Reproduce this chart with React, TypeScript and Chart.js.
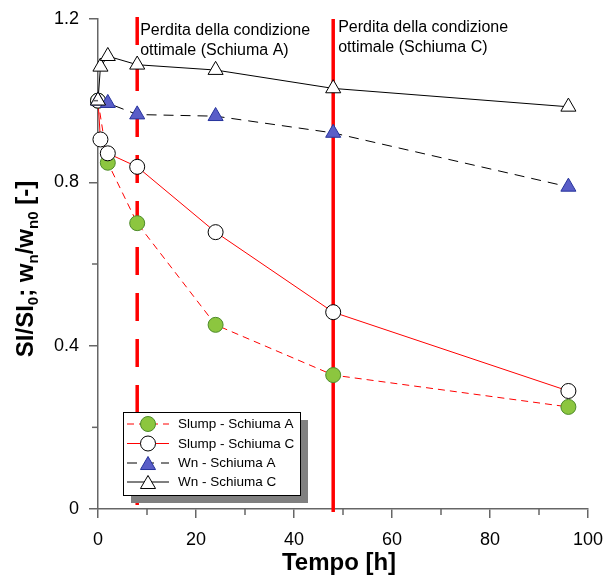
import React, { useEffect, useRef } from 'react';
import { Chart, registerables } from 'chart.js';

Chart.register(...registerables);

// ---- data ----
const slumpAX = [0, 2, 8, 24, 48, 96];
const slumpAY = [1.0, 0.848, 0.7, 0.451, 0.328, 0.25];
const slumpCX = [0, 0.5, 2, 8, 24, 48, 96];
const slumpCY = [1.0, 0.905, 0.871, 0.838, 0.678, 0.482, 0.289];
const wnAX = [0, 2, 8, 24, 48, 96];
const wnAY = [1.0, 0.994, 0.966, 0.962, 0.921, 0.789];
const wnCX = [0, 0.5, 2, 8, 24, 48, 96];
const wnCY = [1.0, 1.083, 1.109, 1.088, 1.075, 1.03, 0.985];

const seriesLabels = ['Slump - Schiuma A', 'Slump - Schiuma C', 'Wn - Schiuma A', 'Wn - Schiuma C'];
const markerLineX = [8, 48];
const annotationLines = [
  ['Perdita della condizione', 'ottimale (Schiuma A)'],
  ['Perdita della condizione', 'ottimale (Schiuma C)'],
];
const xTitle = 'Tempo [h]';
const xMinorTicks = [10, 30, 50, 70, 90];
const yMinorTicks = [0.2, 0.6, 1.0];

const FONT = '"Liberation Sans", Arial, sans-serif';

const toPts = (xs: number[], ys: number[]) => xs.map((x, i) => ({ x, y: ys[i] }));

const styles = [
  { line: '#ff0000', dash: [7, 5], fill: '#8cc63f', stroke: '#4d8a2a', shape: 'circle', r: 7.5 },
  { line: '#ff0000', dash: [], fill: '#ffffff', stroke: '#000000', shape: 'circle', r: 7.5 },
  { line: '#000000', dash: [10, 7], fill: '#5a5ec8', stroke: '#26339c', shape: 'triangle', r: 8.7 },
  { line: '#000000', dash: [], fill: '#ffffff', stroke: '#000000', shape: 'triangle', r: 8.7 },
];

function drawMarker(ctx: CanvasRenderingContext2D, shape: string, x: number, y: number, r: number, fill: string, stroke: string) {
  ctx.save();
  ctx.setLineDash([]);
  ctx.beginPath();
  if (shape === 'circle') {
    ctx.arc(x, y, r, 0, Math.PI * 2);
  } else {
    const h = 1.5 * r;
    const w = Math.sqrt(3) * r;
    ctx.moveTo(x, y - h / 2);
    ctx.lineTo(x + w / 2, y + h / 2);
    ctx.lineTo(x - w / 2, y + h / 2);
    ctx.closePath();
  }
  ctx.fillStyle = fill;
  ctx.fill();
  ctx.lineWidth = 1;
  ctx.strokeStyle = stroke;
  ctx.stroke();
  ctx.restore();
}

const overlay = {
  id: 'overlay',
  beforeDatasetsDraw(chart: any) {
    const { ctx, scales } = chart;
    const x = scales.x;
    const y = scales.y;
    ctx.save();
    ctx.strokeStyle = '#ff0000';
    ctx.lineWidth = 3.5;
    const px1 = x.getPixelForValue(markerLineX[0]);
    ctx.setLineDash([28, 18]);
    ctx.beginPath();
    ctx.moveTo(px1, y.getPixelForValue(1.2) - 2);
    ctx.lineTo(px1, y.getPixelForValue(0) + 3);
    ctx.stroke();
    const px2 = x.getPixelForValue(markerLineX[1]);
    ctx.setLineDash([]);
    ctx.beginPath();
    ctx.moveTo(px2, y.getPixelForValue(1.2));
    ctx.lineTo(px2, y.getPixelForValue(0) + 3);
    ctx.stroke();
    ctx.restore();
  },
  afterDraw(chart: any) {
    const { ctx, scales } = chart;
    const x = scales.x;
    const y = scales.y;
    ctx.save();
    ctx.strokeStyle = '#666666';
    ctx.lineWidth = 1.5;
    const y0 = y.getPixelForValue(0);
    const x0 = x.getPixelForValue(0);
    xMinorTicks.forEach((v) => {
      const p = x.getPixelForValue(v);
      ctx.beginPath();
      ctx.moveTo(p, y0);
      ctx.lineTo(p, y0 + 6);
      ctx.stroke();
    });
    yMinorTicks.forEach((v) => {
      const p = y.getPixelForValue(v);
      ctx.beginPath();
      ctx.moveTo(x0, p);
      ctx.lineTo(x0 - 6, p);
      ctx.stroke();
    });

    ctx.fillStyle = '#000';
    ctx.font = `16px ${FONT}`;
    ctx.textAlign = 'left';
    ctx.textBaseline = 'alphabetic';
    const annX = [x.getPixelForValue(markerLineX[0]) + 3, x.getPixelForValue(markerLineX[1]) + 5];
    const annY = [35, 32];
    annotationLines.forEach((lines, i) => {
      lines.forEach((t, j) => ctx.fillText(t, annX[i], annY[i] + j * 19.5));
    });

    ctx.font = `bold 24px ${FONT}`;
    ctx.textAlign = 'center';
    ctx.fillText(xTitle, 339, 570);

    const segs: [string, boolean][] = [
      ['SI/SI', false], ['0', true], ['; w', false], ['n', true], ['/w', false], ['n0', true], [' [-]', false],
    ];
    const mainF = `bold 24px ${FONT}`;
    const subF = `bold 15px ${FONT}`;
    let total = 0;
    segs.forEach(([t, s]) => {
      ctx.font = s ? subF : mainF;
      total += ctx.measureText(t).width;
    });
    ctx.translate(33, 269);
    ctx.rotate(-Math.PI / 2);
    ctx.textAlign = 'left';
    let cx = -total / 2;
    segs.forEach(([t, s]) => {
      ctx.font = s ? subF : mainF;
      ctx.fillText(t, cx, s ? 5 : 0);
      cx += ctx.measureText(t).width;
    });
    ctx.setTransform(1, 0, 0, 1, 0, 0);
    ctx.restore();

    ctx.save();
    const dpr = chart.currentDevicePixelRatio || 1;
    ctx.setTransform(dpr, 0, 0, dpr, 0, 0);
    const bx = 123, by = 412, bw = 177, bh = 83;
    ctx.fillStyle = '#808080';
    ctx.fillRect(bx + 8, by + 8, bw, bh);
    ctx.fillStyle = '#ffffff';
    ctx.fillRect(bx, by, bw, bh);
    ctx.strokeStyle = '#000';
    ctx.lineWidth = 1;
    ctx.strokeRect(bx + 0.5, by + 0.5, bw, bh);
    const rows = [424, 443.5, 463, 482];
    seriesLabels.forEach((lab, i) => {
      const st = styles[i];
      const ry = rows[i];
      ctx.strokeStyle = st.line;
      ctx.lineWidth = 1;
      ctx.setLineDash(st.dash);
      ctx.beginPath();
      ctx.moveTo(127, ry);
      ctx.lineTo(169, ry);
      ctx.stroke();
      ctx.setLineDash([]);
      drawMarker(ctx, st.shape, 148, ry, st.r, st.fill, st.stroke);
      ctx.fillStyle = '#000';
      ctx.font = `13.5px ${FONT}`;
      ctx.textAlign = 'left';
      ctx.textBaseline = 'middle';
      ctx.fillText(lab, 178, ry + 0.5);
    });
    ctx.restore();
  },
};

export default function App() {
  const ref = useRef<HTMLCanvasElement | null>(null);
  useEffect(() => {
    if (!ref.current) return;
    const datasets = [
      toPts(slumpAX, slumpAY),
      toPts(slumpCX, slumpCY),
      toPts(wnAX, wnAY),
      toPts(wnCX, wnCY),
    ].map((data, i) => {
      const st = styles[i];
      return {
        label: seriesLabels[i],
        data,
        borderColor: st.line,
        borderWidth: 1,
        borderDash: st.dash,
        pointStyle: st.shape,
        pointRadius: st.r,
        pointBorderWidth: 1,
        pointBackgroundColor: st.fill,
        pointBorderColor: st.stroke,
        fill: false,
        tension: 0,
        clip: false as any,
        order: 4 - i,
      };
    });
    const tickFont = { family: FONT, size: 18 };
    const chart = new Chart(ref.current, {
      type: 'line',
      data: { datasets: datasets as any },
      options: {
        responsive: false,
        animation: false,
        devicePixelRatio: 1,
        layout: { padding: { left: 0, right: 17, top: 19, bottom: 0 } },
        plugins: { legend: { display: false }, tooltip: { enabled: false } },
        scales: {
          x: {
            type: 'linear',
            min: 0,
            max: 100,
            ticks: { stepSize: 20, color: '#000', font: tickFont, padding: 11, maxRotation: 0 },
            grid: { display: true, drawOnChartArea: false, drawTicks: true, tickLength: 9, color: '#666666', lineWidth: 1.5 },
            border: { display: true, color: '#666666', width: 1.5 },
            afterFit: (s: any) => {
              s.height = 69;
              s.paddingLeft = 0;
              s.paddingRight = 0;
            },
          },
          y: {
            type: 'linear',
            min: 0,
            max: 1.2,
            ticks: {
              stepSize: 0.4,
              color: '#000',
              font: tickFont,
              padding: 10,
              callback: (v: any) => (Math.abs(v) < 1e-9 ? '0' : Number(v).toFixed(1)),
            },
            grid: { display: true, drawOnChartArea: false, drawTicks: true, tickLength: 9, color: '#666666', lineWidth: 1.5 },
            border: { display: true, color: '#666666', width: 1.5 },
            afterFit: (s: any) => {
              s.width = 98;
              s.paddingTop = 0;
              s.paddingBottom = 0;
            },
          },
        },
      },
      plugins: [overlay],
    });
    return () => chart.destroy();
  }, []);
  return (
    <div style={{ position: 'fixed', left: 0, top: 0, width: 605, height: 578, background: '#fff' }}>
      <canvas ref={ref} width={605} height={578} />
    </div>
  );
}
